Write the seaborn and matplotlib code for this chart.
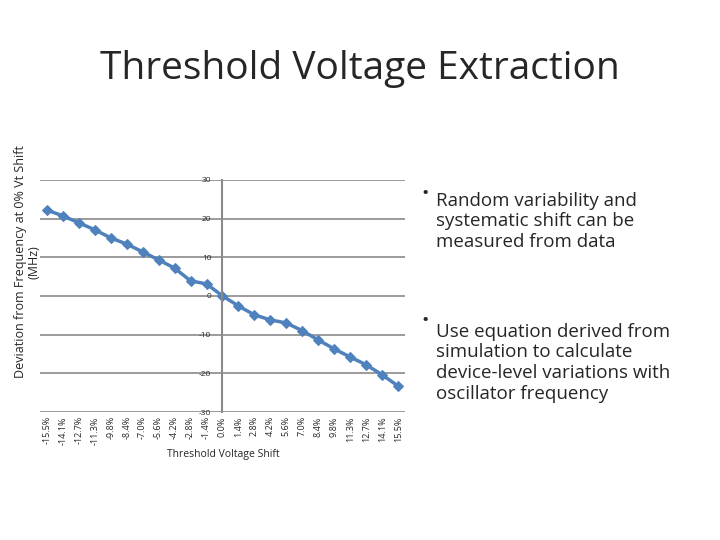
import matplotlib
matplotlib.use("Agg")
import matplotlib.pyplot as plt
import seaborn as sns
import pandas as pd

labels = ["-15.5%","-14.1%","-12.7%","-11.3%","-9.8%","-8.4%","-7.0%","-5.6%","-4.2%","-2.8%","-1.4%","0.0%",
          "1.4%","2.8%","4.2%","5.6%","7.0%","8.4%","9.8%","11.3%","12.7%","14.1%","15.5%"]
values = [22.2,20.7,18.9,17.1,15.0,13.4,11.4,9.3,7.2,3.9,3.1,0.0,
          -2.6,-4.9,-6.2,-7.0,-9.0,-11.4,-13.7,-15.8,-17.8,-20.4,-23.3]
yticks = [-30,-20,-10,0,10,20,30]

sns.set_theme(style="white")
plt.rcParams['font.family'] = ['Open Sans', 'DejaVu Sans']
df = pd.DataFrame({"idx": range(len(labels)), "val": values})

fig = plt.figure(figsize=(7.2, 5.4), dpi=100)
ax = fig.add_axes([0.055, 0.237, 0.508, 0.43])
for y in yticks:
    ax.axhline(y, color="#8a8a8a", lw=1.2, zorder=0)
sns.lineplot(data=df, x="idx", y="val", ax=ax, color="#4f81bd", lw=2.5,
             marker="D", markersize=5, markeredgecolor="#4f81bd")
ax.set_xlim(-0.45, 22.45)
ax.set_ylim(-30, 30)
ax.set_yticks(yticks)
ax.set_yticklabels([str(v) for v in yticks])
for s in ["top", "right", "bottom"]:
    ax.spines[s].set_visible(False)
ax.spines["left"].set_position(("data", 11))
ax.spines["left"].set_color("#8a8a8a")
ax.spines["left"].set_linewidth(1.5)
ax.tick_params(axis="y", length=0, pad=8, labelsize=6)
ax.set_xticks(range(len(labels)))
ax.set_xticklabels(labels, rotation=90)
ax.tick_params(axis="x", length=0, pad=3, labelsize=6.5)
ax.set_xlabel("")
ax.set_ylabel("")
fig.text(0.31, 0.158, "Threshold Voltage Shift", ha="center", va="center", fontsize=7.5)
fig.text(0.038, 0.515, "Deviation from Frequency at 0% Vt Shift\n(MHz)", rotation=90,
         ha="center", va="center", fontsize=9, linespacing=1.0)
fig.text(0.5, 0.873, "Threshold Voltage Extraction", ha="center", va="center", fontsize=28)
fig.text(0.585, 0.64, "•", fontsize=14, va="center")
fig.text(0.605, 0.59, "Random variability and\nsystematic shift can be\nmeasured from data",
         fontsize=13.5, va="center", linespacing=1.2)
fig.text(0.585, 0.405, "•", fontsize=14, va="center")
fig.text(0.605, 0.328, "Use equation derived from\nsimulation to calculate\ndevice-level variations with\noscillator frequency",
         fontsize=13.5, va="center", linespacing=1.2)
fig.savefig("out.png", dpi=100)
